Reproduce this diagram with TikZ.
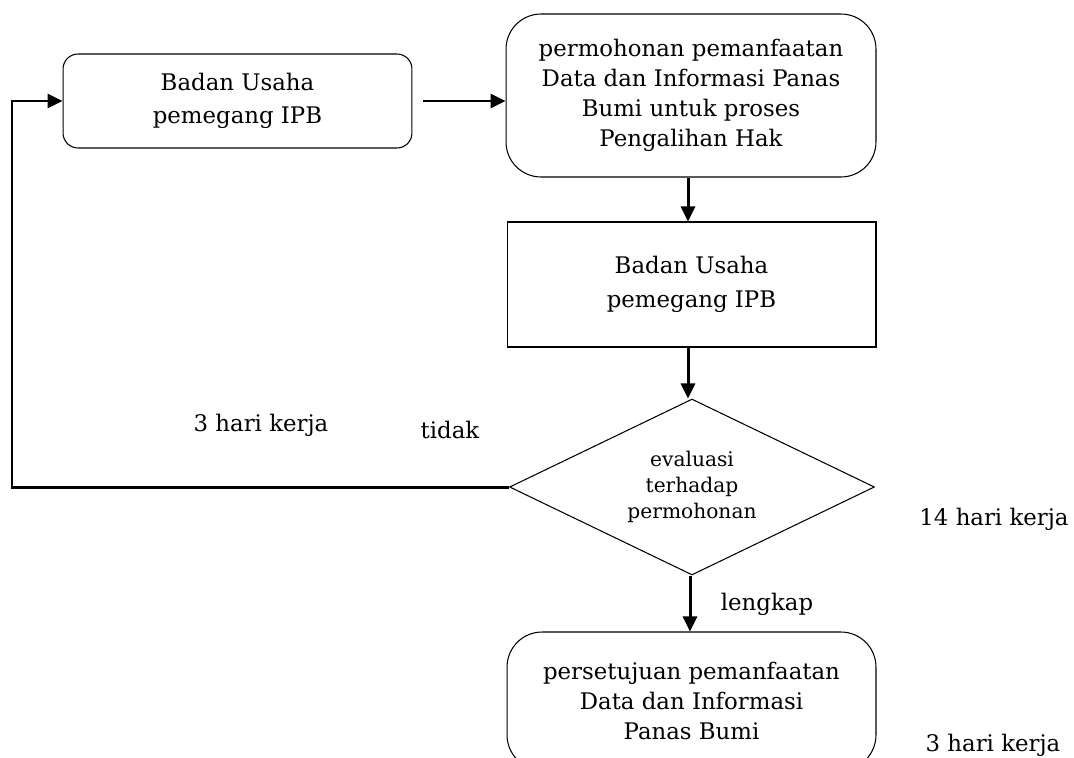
\documentclass[tikz,border=0pt]{standalone}
\usepackage{fontspec}
\setmainfont{DejaVu Serif}
\usetikzlibrary{shapes.geometric, arrows.meta, positioning}

\tikzset{
  roundbox/.style={draw, rounded corners=0.3cm, align=center, inner sep=0pt,
    minimum width=6.98cm, line width=0.6pt},
  plainbox/.style={draw, align=center, inner sep=0pt, line width=0.6pt},
  decision/.style={draw, diamond, aspect=2.07, align=center, inner sep=0pt,
    line width=0.6pt, font=\fontsize{11.5}{14.8}\selectfont},
  flow/.style={-{Triangle[length=0.3cm,width=0.28cm]}, line width=1.7pt},
  note/.style={font=\fontsize{13}{17}\selectfont}
}

\begin{document}
\begin{tikzpicture}[x=0.02cm, y=-0.02cm, font=\fontsize{13}{17}\selectfont]
            \useasboundingbox (0,0) rectangle (1074,757);

            % Boxes
            \node[roundbox, minimum height=1.88cm, font=\fontsize{13}{19}\selectfont] (usaha) at (237.5,101)
              {Badan Usaha\\pemegang IPB};
            \node[roundbox, rounded corners=0.7cm, minimum width=7.4cm, minimum height=3.26cm] (mohon) at (691,95.5)
              {permohonan pemanfaatan\\Data dan Informasi Panas\\Bumi untuk proses\\Pengalihan Hak};
            \node[plainbox, minimum width=7.38cm, minimum height=2.5cm, font=\fontsize{13}{19}\selectfont] (pemegang) at (691.5,284.5)
              {Badan Usaha\\pemegang IPB};
            \node[decision, minimum width=7.3cm, minimum height=3.52cm] (evaluasi) at (692,487)
              {evaluasi\\terhadap\\permohonan};
            \node[roundbox, rounded corners=0.7cm, minimum width=7.38cm, minimum height=2.76cm] (setuju) at (691.5,701)
              {persetujuan pemanfaatan\\Data dan Informasi\\Panas Bumi};

            % Arrows
            \draw[line width=0.6pt, shorten <=6] (usaha.east) -- ++(43,0) coordinate (mid);
            \draw[flow] (mid) -- (mid -| mohon.west);
            \draw[flow] (mohon.south -| 688,0) -- (pemegang.north -| 688,0);
            \draw[flow] (pemegang.south -| 688,0) -- (evaluasi.north -| 688,0);
            \draw[flow] (evaluasi.south -| 690,0) -- (setuju.north -| 690,0);
            \coordinate (turn) at (12,487);
            \draw[flow] (evaluasi.west) -- (turn) |- (usaha.west);

            % Labels
            \node[note] (kerja1) at (261,425) {3 hari kerja};
            \node[note] (tidak) at (450,430) {tidak};
            \node[note] (kerja2) at (994,519) {14 hari kerja};
            \node[note] (lengkap) at (767,604) {lengkap};
            \node[note] (kerja3) at (993,745) {3 hari kerja};
        \end{tikzpicture}
\end{document}
